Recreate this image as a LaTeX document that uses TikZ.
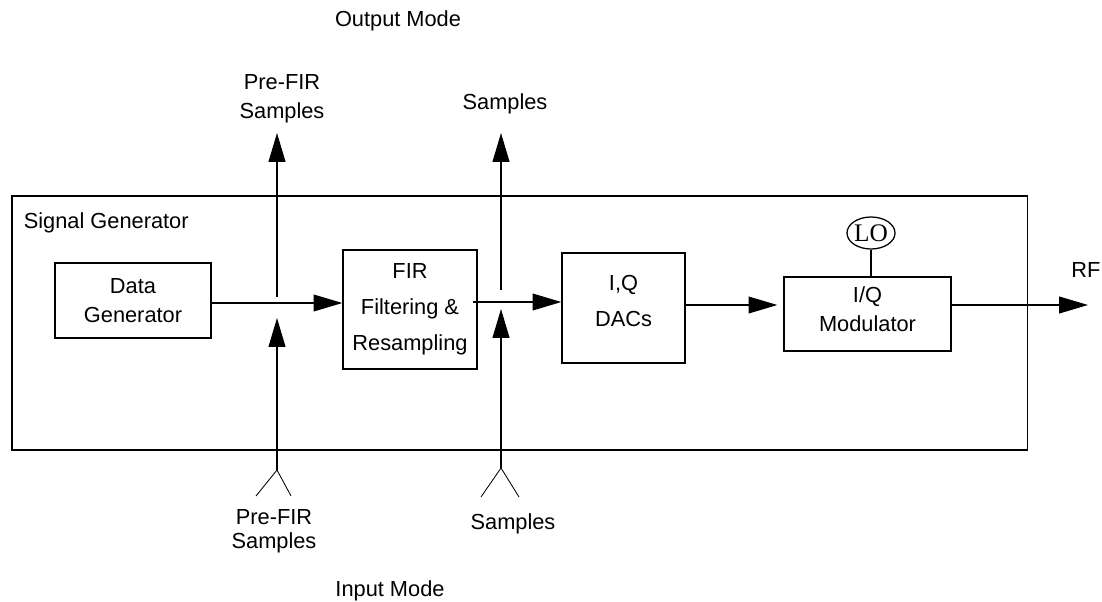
\documentclass[tikz,border=0pt]{standalone}
\usepackage{fontspec}
\setmainfont{Liberation Sans}
\newfontfamily\lofont{Liberation Serif}
\usetikzlibrary{arrows.meta, calc, shapes.geometric}

\begin{document}
\begin{tikzpicture}[x=0.025cm, y=-0.025cm, >={Triangle[length=7.2mm,width=4.2mm]}, line width=.9pt,
    every node/.style={inner sep=0pt, font=\fontsize{15.5}{20.5}\selectfont},
    box/.style={draw, align=center},
    wide/.style={font=\fontsize{15.5}{25.5}\selectfont},
    fork/.style={line width=.6pt}]
  \useasboundingbox (0,0) rectangle (1102,602);
  \node[box, minimum width=25.375cm, minimum height=6.35cm] (sg) at (519.5,323) {};
  \node[anchor=base west] (sglabel) at ($(sg.north west)+(12,33)$) {Signal Generator};
  \node[box, minimum width=3.9cm, minimum height=1.875cm] (dg) at (133,300.5) {Data\\Generator};
  \node[box, wide, minimum width=3.35cm, minimum height=2.975cm] (fir) at (410,309.5) {FIR\\Filtering \&\\Resampling};
  \node[box, wide, text depth=.35cm, minimum width=3.075cm, minimum height=2.75cm] (dac) at (623.5,308) {I,Q\\DACs};
  \node[box, text depth=.25cm, minimum width=4.175cm, minimum height=1.85cm] (mod) at (867.5,314) {I/Q\\Modulator};
  \node[draw, ellipse, minimum width=1.2cm, minimum height=.8cm, font=\lofont\fontsize{18}{20}\selectfont] (lo) at (871,233) {LO};
  \coordinate (j1) at (277,303);
  \coordinate (j2) at (501,302);
  \coordinate (o1) at (277,133);
  \coordinate (o2) at (501,133);
  \coordinate (i1) at (277,470);
  \coordinate (i2) at (501,468);
  \coordinate (rf) at (1088,305);
  \draw[->] (dg.east |- j1) -- (fir.west |- j1);
  \draw[->] ($(fir.east |- j2)+(-5,0)$) -- (dac.west |- j2);
  \draw[->, shorten >=1.5mm] (dac.east |- rf) -- (mod.west |- rf);
  \draw[->] (mod.east |- rf) -- (rf);
  \draw (lo) -- (lo |- mod.north);
  \draw[->] ($(j1)+(0,-6)$) -- (o1);
  \draw[->] ($(j2)+(0,-12)$) -- (o2);
  \draw[->] (i1) -- ($(j1)+(0,15)$);
  \draw[->] (i2) -- ($(j2)+(0,7)$);
  \draw[fork] (i1) -- ++(-21,26) (i1) -- ++(14,26);
  \draw[fork] (i2) -- ++(-20,29) (i2) -- ++(18,29);
  \node[align=center] (outpre) at (282,99) {Pre-FIR\\Samples};
  \node[anchor=base] (outsmp) at (505,110) {Samples};
  \node[align=center, font=\fontsize{15.5}{17}\selectfont] (inpre) at (274,531.5) {Pre-FIR\\Samples};
  \node[anchor=base] (insmp) at (513,529) {Samples};
  \node[anchor=base] (rflabel) at (1086,278) {RF};
  \node[anchor=base] (outmode) at (398,27) {Output Mode};
  \node[anchor=base] (inmode) at (390,596) {Input Mode};
\end{tikzpicture}
\end{document}
